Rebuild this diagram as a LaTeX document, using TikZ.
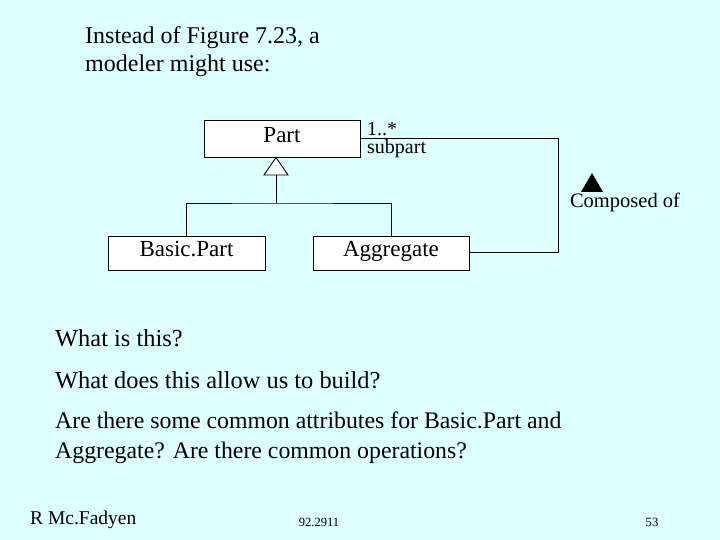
\documentclass[tikz,border=0pt]{standalone}
\usepackage{fontspec}
\setmainfont{Liberation Serif}
\begin{document}
\begin{tikzpicture}[x=1pt,y=-1pt,
  cls/.style={draw,line width=0.9pt,fill=white,inner sep=0pt,text height=0.93em,text depth=0.22em},
  ln/.style={line width=0.9pt},
  txt/.style={anchor=west,inner sep=0pt,align=left}]
\fill[fill={rgb,255:red,221;green,255;blue,255}] (0,0) rectangle (720,540);
\useasboundingbox (0,0) rectangle (720,540);
\node[txt,font=\fontsize{24}{28}\selectfont] (t) at (85,52) {Instead of Figure 7.23, a\\modeler might use:};
\node[cls,minimum width=156pt,minimum height=37pt,font=\fontsize{23}{28}\selectfont] (part) at (282,138.5) {Part};
\node[cls,minimum width=157pt,minimum height=34pt,font=\fontsize{23}{28}\selectfont] (bp) at (186.5,253) {Basic.Part};
\node[cls,minimum width=156pt,minimum height=34pt,font=\fontsize{23}{28}\selectfont] (ag) at (391,253) {Aggregate};
\coordinate (tri) at (276,175);
\draw[ln,fill=white] (part.south -| tri) -- (264,175) -- (288,175) -- cycle;
\draw[ln] (tri) -- (276,203);
\draw[ln] (bp.north) |- (276,203) -| (ag.north);
\coordinate (c1) at (558,138);
\coordinate (c2) at (558,252);
\draw[ln] (part.east |- c1) -- (c1) -- (c2) -- (ag.east |- c2);
\node[txt,font=\fontsize{20}{22}\selectfont] (m) at (367,129) {1..*};
\node[txt,font=\fontsize{20}{22}\selectfont] (r) at (367,149) {subpart};
\fill (581,192) -- (592,173) -- (603,192) -- cycle;
\node[font=\fontsize{20.5}{23}\selectfont,inner sep=0pt] (co) at (625,202) {Composed of};
\node[txt,font=\fontsize{24.4}{30}\selectfont] (q1) at (55,338) {What is this?};
\node[txt,font=\fontsize{24.4}{30}\selectfont] (q2) at (55,380) {What does this allow us to build?};
\node[txt,font=\fontsize{23.8}{30}\selectfont] (q3) at (55,438) {Are there some common attributes for Basic.Part and\\Aggregate? Are there common operations?};
\node[txt,font=\fontsize{19.5}{22}\selectfont] (a) at (30,520) {R Mc.Fadyen};
\node[font=\fontsize{12.6}{14}\selectfont,inner sep=0pt] (n) at (319,522) {92.2911};
\node[font=\fontsize{12.6}{14}\selectfont,inner sep=0pt] (p) at (652,522) {53};
\end{tikzpicture}
\end{document}
